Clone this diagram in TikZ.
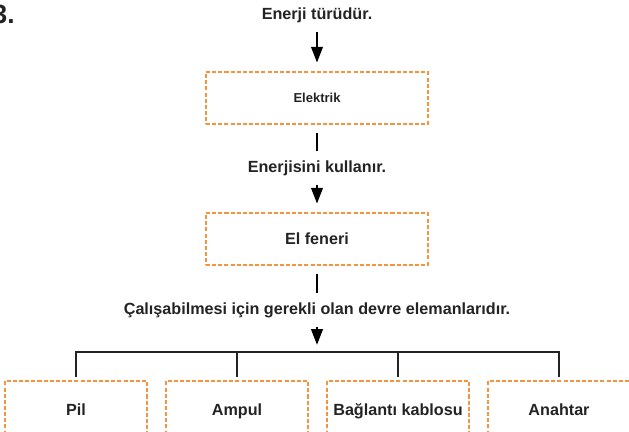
\documentclass[tikz,border=0pt]{standalone}
\usepackage{fontspec}
\setmainfont{Liberation Sans}
\usepackage{xcolor}
\usetikzlibrary{arrows.meta, positioning}

\definecolor{dashorange}{RGB}{246,148,62}
\definecolor{inkgray}{RGB}{35,35,35}

\tikzset{
    concept/.style={draw=dashorange, dashed, dash pattern=on 2.3pt off 1.2pt,
        line width=0.6pt, minimum width=222*0.02cm, minimum height=52*0.02cm,
        inner sep=0pt, font=\bfseries\fontsize{9.2}{11}\selectfont, text=inkgray},
    part/.style={concept, minimum width=142*0.02cm, minimum height=60*0.02cm,
        text height=6.6pt, text depth=2pt},
    relation/.style={inner sep=0pt, font=\bfseries\fontsize{9.2}{11}\selectfont, text=inkgray},
    link/.style={line width=1.4pt, shorten <=5pt, shorten >=5pt},
    flow/.style={link, -{Triangle[length=9pt, width=6.5pt]}},
    branch/.style={line width=1.3pt, inkgray}
}

\begin{document}
\begin{tikzpicture}[x=0.02cm, y=-0.02cm]
    \useasboundingbox (0,0) rectangle (629,432);
    \clip (0,0) rectangle (629,432);

    % Question number
    \node[anchor=north east, inner sep=0pt, font=\bfseries\fontsize{15}{18}\selectfont, text=inkgray] (qnum) at (15,5) {3.};

    % Main chain
    \node[relation] (turu) at (317,15) {Enerji türüdür.};
    \node[concept, font=\bfseries\fontsize{7.4}{9}\selectfont] (elektrik) at (317,98) {Elektrik};
    \node[relation] (kullanir) at (317,168) {Enerjisini kullanır.};
    \node[concept] (fener) at (317,239) {El feneri};
    \node[relation] (devre) at (317,310) {Çalışabilmesi için gerekli olan devre elemanlarıdır.};
    \coordinate (bar) at (317,352);

    % Circuit parts
    \node[part] (pil) at (76,411) {Pil};
    \node[part] (ampul) at (237,411) {Ampul};
    \node[part] (kablo) at (398,411) {Bağlantı kablosu};
    \node[part] (anahtar) at (559,411) {Anahtar};

    % Connectors
    \draw[flow] (turu) -- (elektrik);
    \draw[link] (elektrik) -- (kullanir);
    \draw[flow] (kullanir) -- (fener);
    \draw[link] (fener) -- (devre);
    \draw[flow, shorten >=4pt] (devre) -- (bar);

    % Branches
    \draw[branch, shorten <=2pt] (pil.north) -- (pil |- bar) -- (anahtar |- bar) -- ([yshift=2pt]anahtar.north);
    \draw[branch, shorten >=2pt] (ampul |- bar) -- (ampul.north);
    \draw[branch, shorten >=2pt] (kablo |- bar) -- (kablo.north);
\end{tikzpicture}
\end{document}
